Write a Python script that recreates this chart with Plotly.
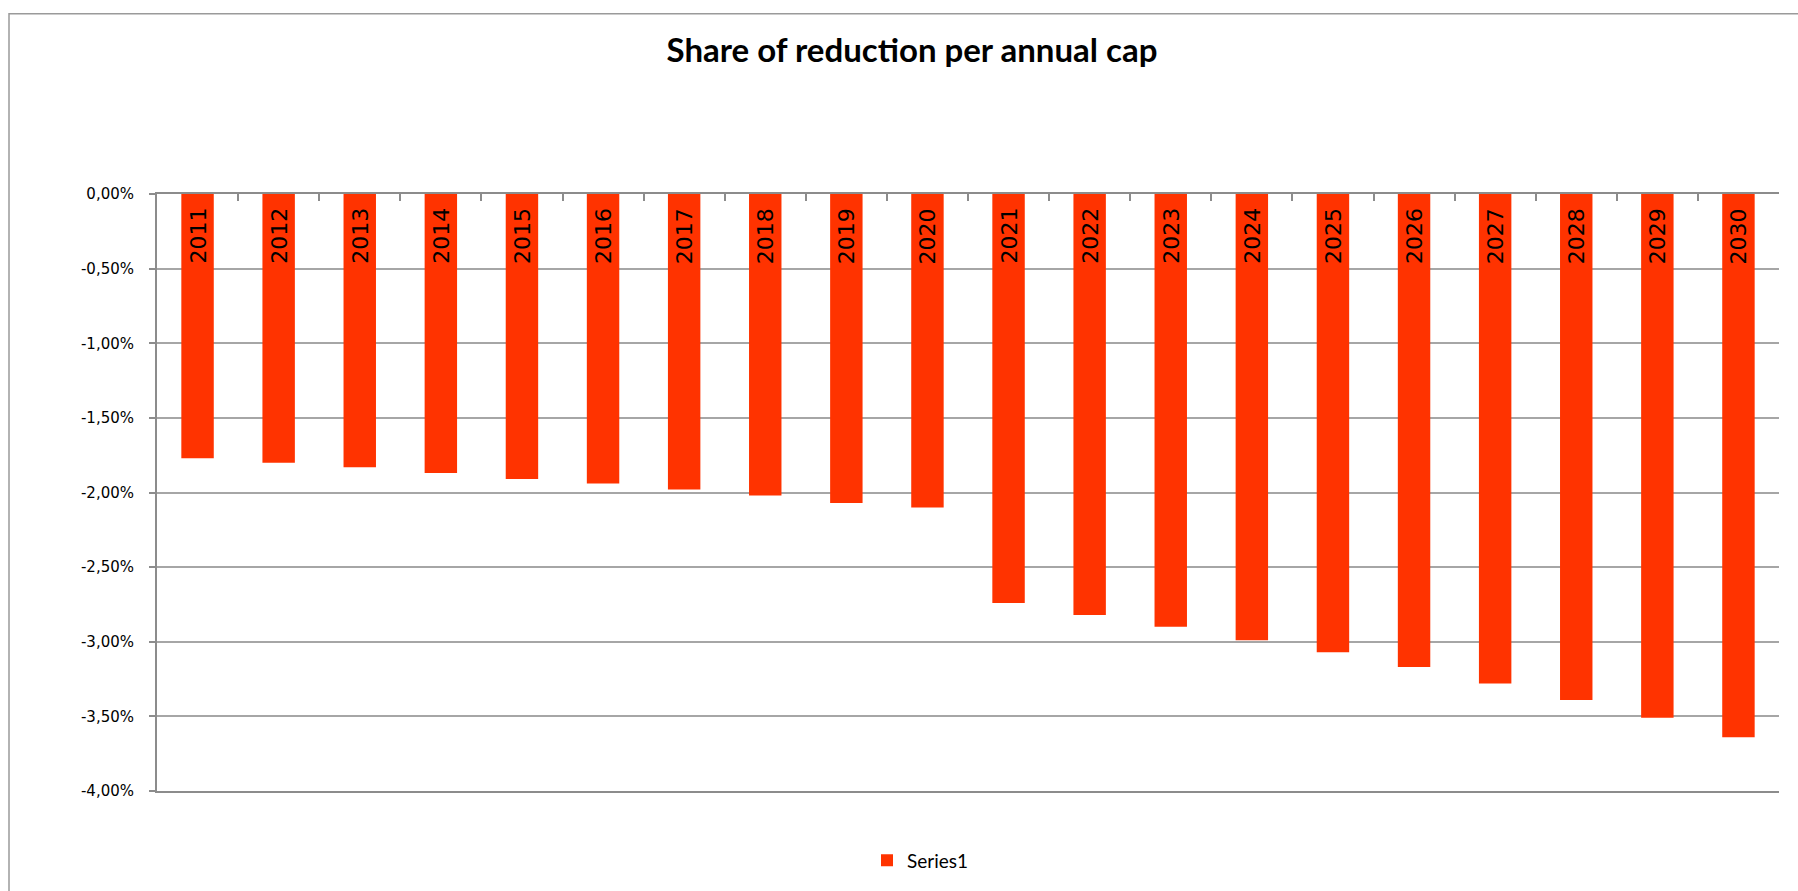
import plotly.graph_objects as go

# Annual cap reduction share, percent per year
years = [str(y) for y in range(2011, 2031)]
reduction_pct = [-1.77, -1.80, -1.83, -1.87, -1.91, -1.94, -1.98, -2.02, -2.07, -2.10,
                 -2.74, -2.82, -2.90, -2.99, -3.07, -3.17, -3.28, -3.39, -3.51, -3.64]

# Y axis ticks (percent) and their comma-decimal labels
y_ticks = [0, -0.5, -1.0, -1.5, -2.0, -2.5, -3.0, -3.5, -4.0]
y_tick_labels = ["0,00%", "-0,50%", "-1,00%", "-1,50%", "-2,00%",
                 "-2,50%", "-3,00%", "-3,50%", "-4,00%"]

BAR_RED = "#FF3300"
AXIS_GREY = "#8C8C8C"
GRID_GREY = "#A6A6A6"

W, H = 1798, 891
M_L, M_R, M_T, M_B = 157, 19, 194, 94
PLOT_W = W - M_L - M_R
PLOT_H = H - M_T - M_B

fig = go.Figure()
fig.add_trace(go.Bar(
    x=years,
    y=reduction_pct,
    name="Series1",
    marker=dict(color=BAR_RED, line=dict(width=0)),
    hoverinfo="x+y",
))

# Year labels written vertically inside each bar, just under the zero line
# (category axis: position i is the i-th year)
for i, yr in enumerate(years):
    fig.add_annotation(
        x=i, y=0, xref="x", yref="y",
        text=yr, textangle=-90, showarrow=False,
        yanchor="top", xanchor="center", yshift=-12,
        font=dict(family="DejaVu Sans, Verdana, sans-serif", size=22, color="#000000"),
    )

# Outer chart frame (top and left edges are visible in the canvas)
def px_to_paper_x(px):
    return (px - M_L) / PLOT_W

def px_to_paper_y(py):
    return (H - M_B - py) / PLOT_H

fig.add_shape(
    type="rect", xref="paper", yref="paper",
    x0=px_to_paper_x(9), x1=px_to_paper_x(W + 20),
    y0=px_to_paper_y(H + 20), y1=px_to_paper_y(12),
    line=dict(color="#9A9A9A", width=1.5), fillcolor="rgba(0,0,0,0)", layer="below",
)

fig.update_layout(
    width=W, height=H,
    autosize=False,
    margin=dict(l=M_L, r=M_R, t=M_T, b=M_B, pad=0),
    paper_bgcolor="#FFFFFF",
    plot_bgcolor="#FFFFFF",
    title=dict(
        text="<b>Share of reduction per annual cap</b>",
        x=912 / W, xanchor="center",
        y=1 - 50 / H, yanchor="middle",
        font=dict(family="Lato, Open Sans, sans-serif", size=33, color="#000000"),
    ),
    bargap=0.6,
    showlegend=True,
    legend=dict(
        orientation="h",
        x=px_to_paper_x(867), xanchor="left",
        y=px_to_paper_y(867), yanchor="middle",
        font=dict(family="Lato, Open Sans, sans-serif", size=19, color="#000000"),
        bgcolor="rgba(0,0,0,0)",
    ),
    xaxis=dict(
        type="category",
        categoryorder="array",
        categoryarray=years,
        range=[-0.5, len(years) - 0.5],
        side="top",
        showticklabels=False,
        ticks="inside",
        tickson="boundaries",
        ticklen=7,
        tickwidth=1.5,
        tickcolor=AXIS_GREY,
        showline=True,
        mirror=True,
        linecolor=AXIS_GREY,
        linewidth=2,
        showgrid=False,
        zeroline=False,
        fixedrange=True,
    ),
    yaxis=dict(
        range=[-4, 0],
        tickmode="array",
        tickvals=y_ticks,
        ticktext=y_tick_labels,
        ticks="outside",
        ticklen=6,
        tickwidth=1.5,
        tickcolor=AXIS_GREY,
        ticklabelstandoff=12,
        tickfont=dict(family="DejaVu Sans, Verdana, sans-serif", size=15, color="#000000"),
        showline=True,
        linecolor=AXIS_GREY,
        linewidth=2,
        showgrid=True,
        gridcolor=GRID_GREY,
        gridwidth=1.5,
        zeroline=False,
        fixedrange=True,
    ),
)

fig.write_html("out.html")
